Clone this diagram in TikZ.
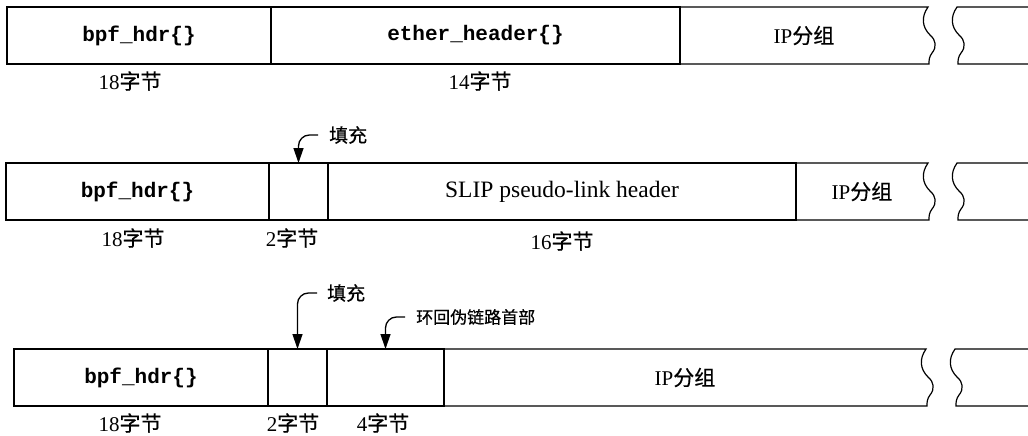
\documentclass[tikz,border=0pt]{standalone}
\usepackage{fontspec}
\setmainfont{Liberation Serif}
\setmonofont{Liberation Mono}
\newfontfamily\cjk[FakeBold=0.5]{Noto Sans CJK SC}
\usetikzlibrary{positioning, arrows.meta}
\newcommand{\wavedown}{.. controls +(-7,10) and +(-8,-8) .. ++(2,28) .. controls +(6,5) and +(5,-6) .. ++(2,18) .. controls +(-3,4) and +(0,-4) .. ++(-3,11)}
\tikzset{
  cell/.style={draw, line width=1.2pt, minimum height=57pt, inner sep=0pt, outer sep=0pt, anchor=north west},
  opencell/.style={cell, draw=none},
  struct/.style={font=\fontsize{21}{21}\selectfont\ttfamily\bfseries},
  plain/.style={font=\fontsize{21}{21}\selectfont},
  sizelbl/.style={font=\fontsize{21}{21}\selectfont, inner sep=0pt},
  note/.style={font=\cjk\fontsize{19}{19}\selectfont, anchor=west, inner sep=0pt},
  pointer/.style={-{Triangle[length=15pt,width=10pt]}, line width=1.3pt, rounded corners=11pt},
  edge/.style={line width=1.2pt},
}

\begin{document}
\begin{tikzpicture}[x=1pt, y=-1pt]
\useasboundingbox (0,0) rectangle (1028,436);

%% ====================  ROW 1: ETHERNET  ====================

\node[cell, struct, minimum width=264pt] (r1_bpf) at (7,7) {bpf\_hdr\{\}};
\node[cell, struct, minimum width=409pt, right=0pt of r1_bpf] (r1_eth) {ether\_header\{\}};
\node[opencell, plain, minimum width=248pt, right=0pt of r1_eth] (r1_ip) {IP{\cjk 分组}};

\node[sizelbl] (r1_bpfsize) at (130,81) {18{\cjk 字节}};
\node[sizelbl] (r1_ethsize) at (480,81) {14{\cjk 字节}};

%% ====================  ROW 2: SLIP  ====================

\node[cell, struct, minimum width=263pt] (r2_bpf) at (6,163) {bpf\_hdr\{\}};
\node[cell, minimum width=59pt, right=0pt of r2_bpf] (r2_pad) {};
\node[cell, font=\fontsize{23.5}{23.5}\selectfont, minimum width=468pt, right=0pt of r2_pad] (r2_slip) {SLIP pseudo-link header};
\node[opencell, plain, minimum width=132pt, right=0pt of r2_slip] (r2_ip) {IP{\cjk 分组}};

\node[sizelbl] (r2_bpfsize) at (133,238) {18{\cjk 字节}};
\node[sizelbl] (r2_padsize) at (292,238) {2{\cjk 字节}};
\node[sizelbl] (r2_slipsize) at (562,241) {16{\cjk 字节}};

\node[note] (r2_padnote) at (329,135) {填充};

%% ====================  ROW 3: LOOPBACK  ====================

\node[cell, struct, minimum width=254pt] (r3_bpf) at (14,349) {bpf\_hdr\{\}};
\node[cell, minimum width=59pt, right=0pt of r3_bpf] (r3_pad) {};
\node[cell, minimum width=117pt, right=0pt of r3_pad] (r3_loop) {};
\node[opencell, plain, minimum width=482pt, right=0pt of r3_loop] (r3_ip) {IP{\cjk 分组}};

\node[sizelbl] (r3_bpfsize) at (130,423) {18{\cjk 字节}};
\node[sizelbl] (r3_padsize) at (293,423) {2{\cjk 字节}};
\node[sizelbl] (r3_loopsize) at (383,423) {4{\cjk 字节}};

\node[note] (r3_padnote) at (327,293) {填充};
\node[note, font=\cjk\fontsize{17}{17}\selectfont] (r3_loopnote) at (416,317) {环回伪链路首部};

%% ====================  BROKEN ENDS  ====================

\draw[edge] (r1_ip.north west) -- (r1_ip.north east) \wavedown -- (r1_ip.south west);
\draw[edge] (r2_ip.north west) -- (r2_ip.north east) \wavedown -- (r2_ip.south west);
\draw[edge] (r3_ip.north west) -- (r3_ip.north east) \wavedown -- (r3_ip.south west);

\foreach \t/\x in {7/957, 163/957, 349/955}
  \draw[edge] (1028,\t) -- (\x,\t) \wavedown -- (1028,\t+57);

%% ====================  POINTERS  ====================

\draw[pointer] ([xshift=-11pt]r2_padnote.west) -| (r2_pad.north);
\draw[pointer] ([xshift=-10pt]r3_padnote.west) -| (r3_pad.north);
\draw[pointer] ([xshift=-11pt]r3_loopnote.west) -| (r3_loop.north);

\end{tikzpicture}
\end{document}
